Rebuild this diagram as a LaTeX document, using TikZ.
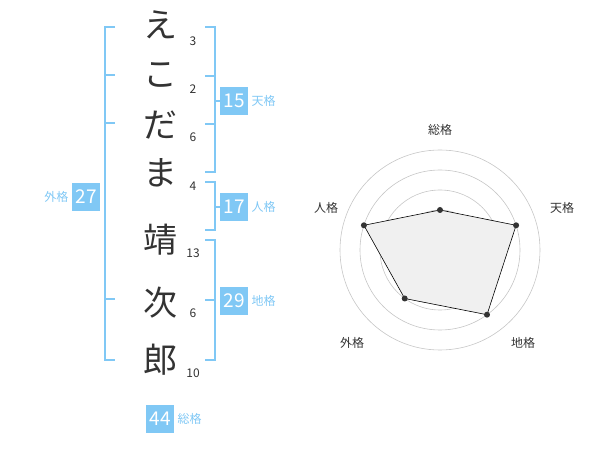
\documentclass[tikz,border=0pt]{standalone}
\usepackage{fontspec}
\setmainfont{Noto Sans CJK JP}
\definecolor{kakublue}{HTML}{80C8F5}
\definecolor{inkgray}{HTML}{333333}
\tikzset{
  bracket/.style={draw=kakublue,line width=1.6pt},
  kanji/.style={font=\fontsize{34}{34}\selectfont,text=inkgray},
  stroke/.style={font=\fontsize{12}{12}\selectfont,text=inkgray},
  numbox/.style={fill=kakublue,text=white,minimum width=28pt,minimum height=28pt,inner sep=0pt,font=\fontsize{19}{19}\selectfont},
  kakulabel/.style={text=kakublue,font=\fontsize{12}{12}\selectfont},
  axislabel/.style={text=inkgray,font=\fontsize{12}{12}\selectfont},
  ring/.style={draw=gray!45,line width=0.6pt},
  dot/.style={circle,fill=inkgray,inner sep=0pt,minimum size=6pt}
}
\begin{document}
\begin{tikzpicture}[x=1pt,y=-1pt]
\useasboundingbox (0,0) rectangle (600,470);

% name characters and stroke counts
\node[kanji] (c1) at (160,25) {え};
\node[kanji] (c2) at (160,75) {こ};
\node[kanji] (c3) at (160,125) {だ};
\node[kanji] (c4) at (160,173) {ま};
\node[kanji] (c5) at (160,240) {靖};
\node[kanji] (c6) at (160,303) {次};
\node[kanji] (c7) at (160,360) {郎};
\node[stroke] (s1) at (193,41) {3};
\node[stroke] (s2) at (193,89) {2};
\node[stroke] (s3) at (193,137) {6};
\node[stroke] (s4) at (193,186) {4};
\node[stroke] (s5) at (193,253) {13};
\node[stroke] (s6) at (193,313) {6};
\node[stroke] (s7) at (193,373) {10};

% outer bracket (gaikaku)
\draw[bracket] (115,27) -- (105,27) -- (105,360) -- (115,360);
\draw[bracket] (105,75) -- (115,75);
\draw[bracket] (105,123) -- (115,123);
\draw[bracket] (105,299) -- (115,299);
\node[numbox] (gai) at (86,197) {27};
\node[kakulabel,anchor=east] (gail) at (gai.west) {外格};

% right brackets
\draw[bracket] (205,27) -- (215,27) -- (215,172) -- (205,172);
\draw[bracket] (205,76) -- (215,76);
\draw[bracket] (205,124) -- (215,124);
\draw[bracket] (205,182) -- (215,182) -- (215,230) -- (205,230);
\draw[bracket] (205,240) -- (215,240) -- (215,360) -- (205,360);
\draw[bracket] (205,300) -- (215,300);
\draw[bracket] (215,101) -- (220,101);
\draw[bracket] (215,207) -- (220,207);
\node[numbox] (ten) at (234,101) {15};
\node[kakulabel,anchor=west] (tenl) at (ten.east) {天格};
\node[numbox] (jin) at (234,207) {17};
\node[kakulabel,anchor=west] (jinl) at (jin.east) {人格};
\node[numbox] (chi) at (234,301) {29};
\node[kakulabel,anchor=west] (chil) at (chi.east) {地格};
\node[numbox] (sou) at (160,419) {44};
\node[kakulabel,anchor=west] (soul) at (sou.east) {総格};

% radar chart
\coordinate (o) at (440,250);
\foreach \r in {20,40,60,80,100}
  \draw[ring] (o) circle (\r);
\fill[gray!60] (o) circle (3);
\path (o) ++(0,-40) coordinate (p1);
\path (o) ++(76.1,-24.7) coordinate (p2);
\path (o) ++(47,64.7) coordinate (p3);
\path (o) ++(-35.3,48.5) coordinate (p4);
\path (o) ++(-76.1,-24.7) coordinate (p5);
\filldraw[fill=gray!12,draw=black,line width=0.6pt] (p1) -- (p2) -- (p3) -- (p4) -- (p5) -- cycle;
\foreach \p in {p1,p2,p3,p4,p5}
  \node[dot] at (\p) {};
\node[axislabel] (ax1) at (440,130) {総格};
\node[axislabel] (ax2) at (562,208) {天格};
\node[axislabel] (ax3) at (523,343) {地格};
\node[axislabel] (ax4) at (352,343) {外格};
\node[axislabel] (ax5) at (326,208) {人格};
\end{tikzpicture}
\end{document}
